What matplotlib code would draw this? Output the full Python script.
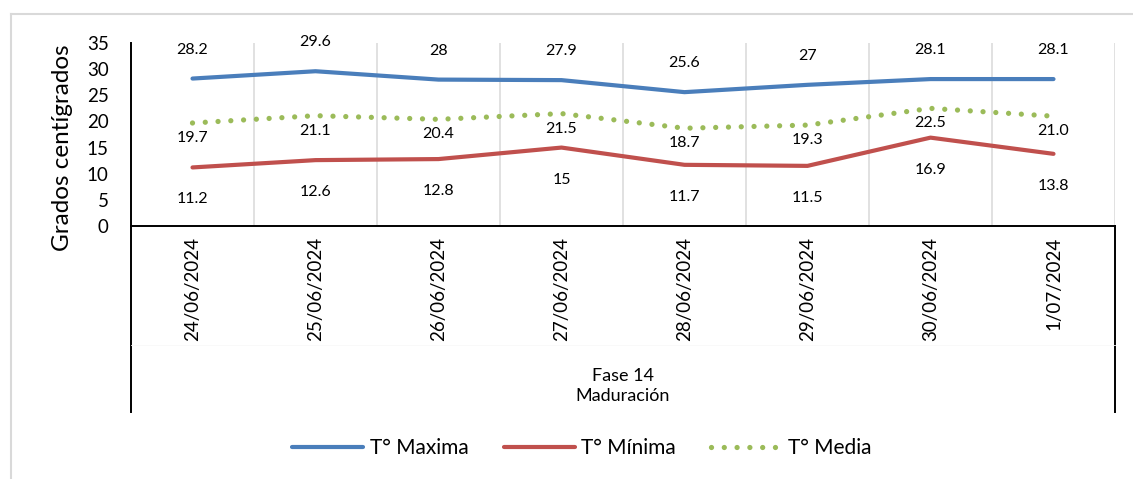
import matplotlib
matplotlib.use("Agg")
import matplotlib.pyplot as plt
from matplotlib.lines import Line2D

# temperaturas diarias, fase 14 (maduración)
fechas = ["24/06/2024", "25/06/2024", "26/06/2024", "27/06/2024",
          "28/06/2024", "29/06/2024", "30/06/2024", "1/07/2024"]
t_maxima = [28.2, 29.6, 28, 27.9, 25.6, 27, 28.1, 28.1]
t_minima = [11.2, 12.6, 12.8, 15, 11.7, 11.5, 16.9, 13.8]
t_media = [19.7, 21.1, 20.4, 21.5, 18.7, 19.3, 22.5, 21.0]
fase = "Fase 14\nMaduración"

plt.rcParams['font.family'] = ['Lato', 'DejaVu Sans']
plt.rcParams['lines.scale_dashes'] = False

W, H = 1133, 479
fig = plt.figure(figsize=(W / 100, H / 100), dpi=100, facecolor='w')
L, R, T, B = 131, 1115, 43, 226
ax = fig.add_axes([L / W, 1 - B / H, (R - L) / W, (B - T) / H])

x = list(range(len(fechas)))
azul, rojo, verde = '#4a7ebb', '#c0504d', '#9bbb59'

ax.plot(x, t_maxima, color=azul, lw=3.0, solid_capstyle='round', label='T° Maxima', zorder=3)
ax.plot(x, t_minima, color=rojo, lw=3.0, solid_capstyle='round', label='T° Mínima', zorder=3)
ax.plot(x, t_media, color=verde, lw=3.8, linestyle=(0, (0.01, 9.2)),
        dash_capstyle='round', label='T° Media', zorder=3)

# etiquetas de datos
for i in x:
    ax.annotate(f"{t_maxima[i]:g}", (i, t_maxima[i]), xytext=(0, 29),
                textcoords='offset pixels', ha='center', va='center', fontsize=11.5)
    ax.annotate(f"{t_minima[i]:g}", (i, t_minima[i]), xytext=(0, -32),
                textcoords='offset pixels', ha='center', va='center', fontsize=11.5)
    ax.annotate(f"{t_media[i]:.1f}", (i, t_media[i]), xytext=(0, -15),
                textcoords='offset pixels', ha='center', va='center', fontsize=11.5)

ax.set_xlim(-0.5, len(fechas) - 0.5)
ax.set_ylim(0, 35)
ax.set_yticks(range(0, 36, 5))
ax.tick_params(axis='y', length=0, pad=16, labelsize=13.5)
ax.set_xticks(x)
ax.set_xticklabels(fechas, rotation=90, va='top', ha='center')
ax.tick_params(axis='x', length=0, pad=8, labelsize=13.5)

# líneas de cuadrícula entre categorías
ax.set_xticks([i + 0.5 for i in x], minor=True)
ax.tick_params(axis='x', which='minor', length=0)
ax.grid(True, which='minor', axis='x', color='#d9d9d9', lw=1.1)

for s in ['top', 'right']:
    ax.spines[s].set_visible(False)
ax.spines['left'].set_linewidth(1.4)
ax.spines['bottom'].set_linewidth(1.4)
ax.spines['left'].set_zorder(4)

# caja del eje de categorías de dos niveles
yb = (B - 412) / (B - T)
ax.plot([0, 0], [0, yb], transform=ax.transAxes, color='k', lw=1.4, clip_on=False)
ax.plot([1, 1], [0, yb], transform=ax.transAxes, color='k', lw=1.4, clip_on=False)
ym = (B - 345) / (B - T)
ax.plot([0, 1], [ym, ym], transform=ax.transAxes, color='#f8f8f8', lw=0.6, clip_on=False)
ax.text(0.5, (B - 386) / (B - T), fase, transform=ax.transAxes, ha='center', va='center',
        fontsize=13, linespacing=1.3)

ax.set_ylabel("Grados centígrados", fontsize=17.5)
ax.yaxis.set_label_coords((73 - L) / (R - L), (B - 148) / (B - T))

fig.legend(loc='center', bbox_to_anchor=(582 / W, 1 - 448 / H), ncol=3, frameon=False,
           fontsize=15, handlelength=3.4, handletextpad=0.3, columnspacing=1.7)

# borde del área del gráfico
fig.add_artist(Line2D([11 / W, 1], [1 - 14 / H, 1 - 14 / H], color='#d9d9d9', lw=1.5))
fig.add_artist(Line2D([11 / W, 11 / W], [0, 1 - 14 / H], color='#d9d9d9', lw=1.5))

fig.savefig("out.png", dpi=100, facecolor='w')
